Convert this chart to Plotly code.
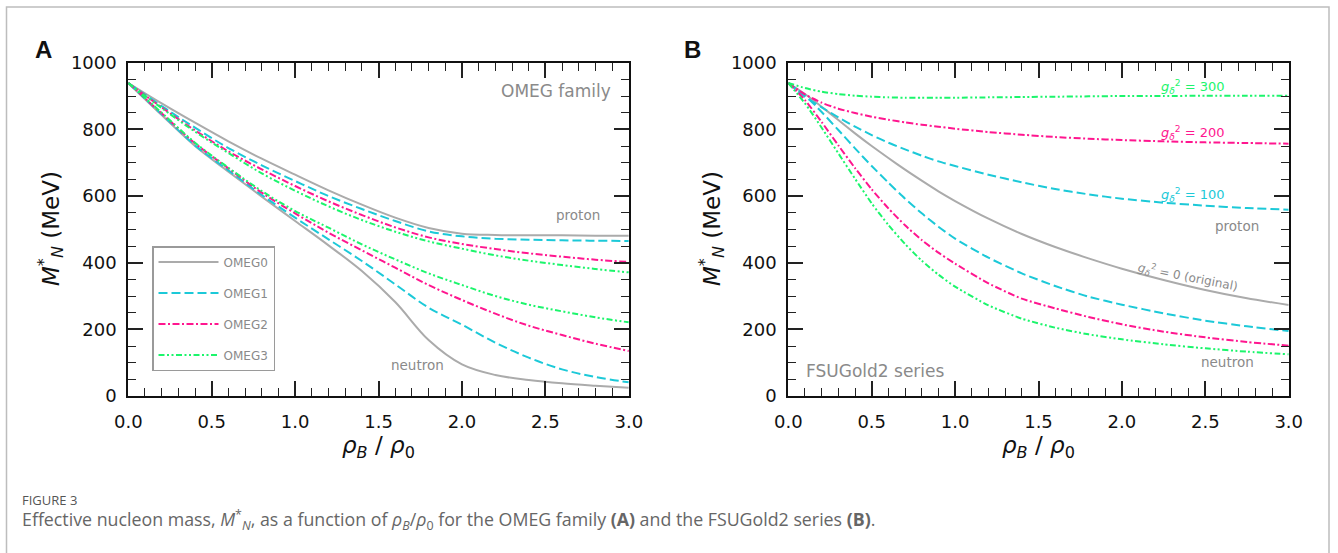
import plotly.graph_objects as go

# ---------------- data: OMEG family (panel A) ----------------
x_omeg = [0.0, 0.2, 0.4, 0.6, 0.8, 1.0, 1.2, 1.4, 1.6, 1.8, 2.0, 2.2, 2.4, 2.6, 2.8, 3.0]

omeg0_proton = [939, 878, 820, 764, 712, 664, 617, 574, 535, 504, 487, 483, 482, 482, 481, 481]
omeg0_neutron = [939, 843, 750, 673, 598, 525, 452, 375, 282, 168, 95, 63, 48, 38, 31, 25]
omeg1_proton = [939, 870, 805, 744, 692, 645, 600, 561, 525, 494, 479, 472, 469, 467, 466, 465]
omeg1_neutron = [939, 845, 752, 677, 603, 535, 470, 405, 335, 265, 214, 160, 115, 80, 57, 41]
omeg2_proton = [939, 866, 797, 734, 680, 630, 584, 543, 506, 476, 456, 441, 428, 418, 409, 402]
omeg2_neutron = [939, 848, 758, 683, 610, 548, 490, 437, 385, 333, 288, 247, 211, 183, 157, 135]
omeg3_proton = [939, 864, 793, 729, 668, 616, 569, 528, 493, 464, 442, 422, 406, 393, 381, 371]
omeg3_neutron = [939, 850, 760, 685, 615, 555, 505, 455, 410, 368, 333, 300, 274, 254, 236, 221]

# ---------------- data: FSUGold2 series (panel B) ----------------
x_fsu = [0.0, 0.1, 0.2, 0.3, 0.4, 0.5, 0.6, 0.7, 0.8, 0.9, 1.0,
         1.2, 1.4, 1.6, 1.8, 2.0, 2.25, 2.5, 2.75, 3.0]

fsu_g0 = [939, 906, 868, 828, 788, 750, 714, 679, 646, 614, 585,
          532, 486, 447, 413, 382, 348, 318, 293, 273]
fsu_g100_proton = [939, 898, 866, 836, 808, 783, 760, 740, 721, 704, 690,
                   664, 641, 621, 605, 592, 580, 571, 564, 559]
fsu_g100_neutron = [939, 902, 852, 798, 743, 690, 640, 592, 548, 508, 472,
                    415, 368, 330, 298, 274, 248, 226, 209, 195]
fsu_g200_proton = [939, 905, 880, 862, 849, 838, 829, 821, 814, 808, 802,
                   792, 784, 777, 772, 768, 764, 761, 759, 757]
fsu_g200_neutron = [939, 888, 822, 752, 684, 620, 563, 512, 468, 430, 397,
                    338, 292, 263, 237, 215, 193, 176, 162, 151]
fsu_g300_proton = [939, 924, 913, 906, 901, 898, 896, 895, 895, 895, 895,
                   896, 897, 898, 899, 900, 900, 901, 901, 901]
fsu_g300_neutron = [939, 878, 805, 728, 652, 578, 513, 456, 406, 364, 328,
                    272, 232, 205, 185, 170, 155, 143, 133, 125]

omeg_names = ["OMEG0", "OMEG1", "OMEG2", "OMEG3"]

# ---------------- styles ----------------
GRAY = "#ababab"
CYAN = "#1cc9d8"
PINK = "#ff168f"
GREEN = "#1cf56c"
styles = [
    dict(color=GRAY, width=2, dash="solid"),
    dict(color=CYAN, width=2, dash="9px,4px"),
    dict(color=PINK, width=2, dash="7px,2.5px,2px,2.5px"),
    dict(color=GREEN, width=2, dash="6px,2.5px,2px,2.5px,2px,2.5px"),
]
TXT_GRAY = "#8a8a8a"
FONT = "DejaVu Sans"

W, H = 1338, 553


def px_x(p):
    return p / W


def px_y(p):
    return (H - p) / H


fig = go.Figure()

# panel A curves
omeg_pairs = [(omeg0_proton, omeg0_neutron), (omeg1_proton, omeg1_neutron),
              (omeg2_proton, omeg2_neutron), (omeg3_proton, omeg3_neutron)]
for i, (name, (prot, neut)) in enumerate(zip(omeg_names, omeg_pairs)):
    for j, ys in enumerate((prot, neut)):
        fig.add_trace(go.Scatter(
            x=x_omeg, y=ys, mode="lines", name=name,
            legendgroup=name, showlegend=(j == 0),
            line=dict(shape="spline", smoothing=1.0, **styles[i]),
            xaxis="x", yaxis="y", hoverinfo="skip"))

# panel B curves
fsu_sets = [[fsu_g0], [fsu_g100_proton, fsu_g100_neutron],
            [fsu_g200_proton, fsu_g200_neutron], [fsu_g300_proton, fsu_g300_neutron]]
for i, curves in enumerate(fsu_sets):
    for ys in curves:
        fig.add_trace(go.Scatter(
            x=x_fsu, y=ys, mode="lines", showlegend=False,
            line=dict(shape="spline", smoothing=0.6, **styles[i]),
            xaxis="x2", yaxis="y2", hoverinfo="skip"))

axis_common = dict(
    showgrid=False, zeroline=False, showline=True, linecolor="#111", linewidth=2,
    mirror="ticks", ticks="inside", ticklen=15, tickwidth=1.5, tickcolor="#222",
    tickfont=dict(family=FONT, size=18, color="#111"), automargin=False,
)
xdict = dict(axis_common, range=[0, 3], dtick=0.5, tick0=0, tickformat=".1f",
             ticklabelstandoff=8,
             minor=dict(dtick=0.1, ticklen=8, ticks="inside", tickcolor="#222", tickwidth=1.2))
ydict = dict(axis_common, range=[0, 1000], dtick=200, tick0=0,
             ticklabelstandoff=6,
             minor=dict(dtick=50, ticklen=8, ticks="inside", tickcolor="#222", tickwidth=1.2))

ydom = [px_y(396), px_y(62.7)]
fig.update_layout(
    width=W, height=H,
    margin=dict(l=0, r=0, t=0, b=0, pad=0, autoexpand=False),
    paper_bgcolor="white", plot_bgcolor="white",
    xaxis=dict(xdict, domain=[px_x(128.3), px_x(628.8)], anchor="y"),
    yaxis=dict(ydict, domain=ydom, anchor="x"),
    xaxis2=dict(xdict, domain=[px_x(788.3), px_x(1288.7)], anchor="y2"),
    yaxis2=dict(ydict, domain=ydom, anchor="x2"),
    showlegend=True,
    legend=dict(
        x=px_x(152), y=px_y(246), xanchor="left", yanchor="top",
        bgcolor="white", bordercolor="#9a9a9a", borderwidth=1.5,
        font=dict(family=FONT, size=12, color=TXT_GRAY),
        tracegroupgap=12, itemwidth=60,
    ),
)


def paper_text(text, xc, yc, size, color="#111", family=FONT, angle=0, xanchor="center"):
    return dict(text=text, x=px_x(xc), y=px_y(yc), xref="paper", yref="paper",
                xanchor=xanchor, yanchor="middle", textangle=angle, showarrow=False,
                font=dict(family=family, size=size, color=color))


ann = []
# axis titles
ytitle = "<i>M</i><sup>*</sup><sub><i>N</i></sub> (MeV)"
xtitle = "<i>ρ</i><sub><i>B</i></sub> / <i>ρ</i><sub>0</sub>"
for xc in (50, 711):
    ann.append(paper_text(ytitle, xc, 229, 23, angle=-90))
for xc in (378.5, 1038.5):
    ann.append(paper_text(xtitle, xc, 447, 23))
# panel letters
ann.append(paper_text("<b>A</b>", 43, 50, 24, family="Liberation Sans"))
ann.append(paper_text("<b>B</b>", 692, 50, 24, family="Liberation Sans"))

# in-panel labels, panel A
ann += [
    dict(text="OMEG family", x=2.905, y=916, xref="x", yref="y", xanchor="right",
         showarrow=False, font=dict(family=FONT, size=17, color=TXT_GRAY)),
    dict(text="proton", x=2.693, y=544, xref="x", yref="y",
         showarrow=False, font=dict(family=FONT, size=13.5, color=TXT_GRAY)),
    dict(text="neutron", x=1.731, y=93, xref="x", yref="y",
         showarrow=False, font=dict(family=FONT, size=13.5, color=TXT_GRAY)),
]


# in-panel labels, panel B
def gdelta(val):
    return f"<i>g</i><sub><i>δ</i></sub><sup>2</sup> = {val}"


ann += [
    dict(text=gdelta(300), x=2.429, y=928, xref="x2", yref="y2",
         showarrow=False, font=dict(family=FONT, size=13, color=GREEN)),
    dict(text=gdelta(200), x=2.429, y=790, xref="x2", yref="y2",
         showarrow=False, font=dict(family=FONT, size=13, color=PINK)),
    dict(text=gdelta(100), x=2.429, y=604, xref="x2", yref="y2",
         showarrow=False, font=dict(family=FONT, size=13, color=CYAN)),
    dict(text="proton", x=2.693, y=510, xref="x2", yref="y2",
         showarrow=False, font=dict(family=FONT, size=13.5, color=TXT_GRAY)),
    dict(text=gdelta("0 (original)"), x=2.396, y=357, xref="x2", yref="y2", textangle=11,
         showarrow=False, font=dict(family=FONT, size=12, color=TXT_GRAY)),
    dict(text="neutron", x=2.632, y=102, xref="x2", yref="y2",
         showarrow=False, font=dict(family=FONT, size=13.5, color=TXT_GRAY)),
    dict(text="FSUGold2 series", x=0.094, y=75, xref="x2", yref="y2", xanchor="left",
         showarrow=False, font=dict(family=FONT, size=17, color=TXT_GRAY)),
]

# caption
ann.append(paper_text("FIGURE 3", 20, 500, 13, color="#555", family="Open Sans", xanchor="left"))
ann.append(paper_text(
    "Effective nucleon mass, <i>M</i><sup>*</sup><sub><i>N</i></sub>, as a function of "
    "<i>ρ</i><sub><i>B</i></sub>/<i>ρ</i><sub>0</sub> for the OMEG family <b>(A)</b> "
    "and the FSUGold2 series <b>(B)</b>.",
    20, 520, 17.8, color="#666", family="Open Sans", xanchor="left"))
fig.update_layout(annotations=ann)

# outer frame of the figure box
fig.add_shape(type="rect", xref="paper", yref="paper",
              x0=px_x(6.5), x1=px_x(1329), y0=-0.05, y1=px_y(7),
              line=dict(color="#bdbdbd", width=1.5), fillcolor="rgba(0,0,0,0)", layer="below")

fig.write_html("out.html")
